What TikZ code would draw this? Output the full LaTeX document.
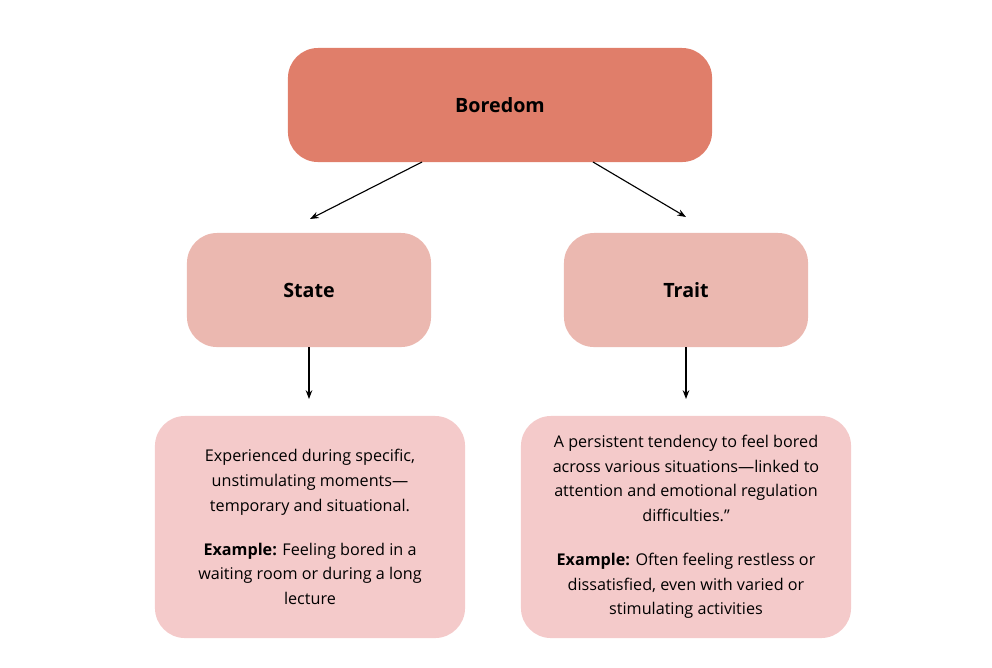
\documentclass[tikz,border=0pt]{standalone}
\usepackage{fontspec}
\setmainfont{Open Sans}
\usetikzlibrary{arrows.meta,positioning}
\definecolor{topfill}{HTML}{E07E6A}
\definecolor{midfill}{HTML}{EBB8B0}
\definecolor{lowfill}{HTML}{F4CACA}
\begin{document}
\begin{tikzpicture}[x=0.025cm,y=-0.025cm,
    box/.style={rounded corners=0.75cm, inner sep=0pt, align=center},
    head/.style={box, font=\fontsize{14}{17}\selectfont\bfseries},
    desc/.style={box, fill=lowfill, font=\fontsize{11.5}{17.5}\selectfont, minimum width=7.6cm, minimum height=5.55cm},
    arr/.style={-{Stealth[length=2.2mm]}, thick}
]
    \useasboundingbox (0,0) rectangle (992,667);
    % Root
    \node[head, fill=topfill, minimum width=10.6cm, minimum height=2.85cm] (bored) at (500,105) {Boredom};

    % Types
    \node[head, fill=midfill, minimum width=6.1cm, minimum height=2.85cm] (state) at (309,290) {State};
    \node[head, fill=midfill, minimum width=6.1cm, minimum height=2.85cm] (trait) at (686,290) {Trait};

    % Descriptions
    \node[desc, minimum width=7.75cm] (stdesc) at (310,527) {Experienced during specific,\\unstimulating moments---\\temporary and situational.\\[1.2em]\textbf{Example:} Feeling bored in a\\waiting room or during a long\\lecture};
    \node[desc, minimum width=8.25cm] (trdesc) at (686,527) {A persistent tendency to feel bored\\across various situations---linked to\\attention and emotional regulation\\difficulties.''\\[1.2em]\textbf{Example:} Often feeling restless or\\dissatisfied, even with varied or\\stimulating activities};

    % Connectors
    \coordinate (lstart) at (422,162);
    \coordinate (lend) at (310,219);
    \coordinate (rstart) at (593,162);
    \coordinate (rend) at (686,217);
    \coordinate (sdend) at (309,399);
    \coordinate (tdend) at (686,399);
    \draw[arr] (lstart) -- (lend);
    \draw[arr] (rstart) -- (rend);
    \draw[arr] (state.south) -- (sdend);
    \draw[arr] (trait.south) -- (tdend);
\end{tikzpicture}
\end{document}
